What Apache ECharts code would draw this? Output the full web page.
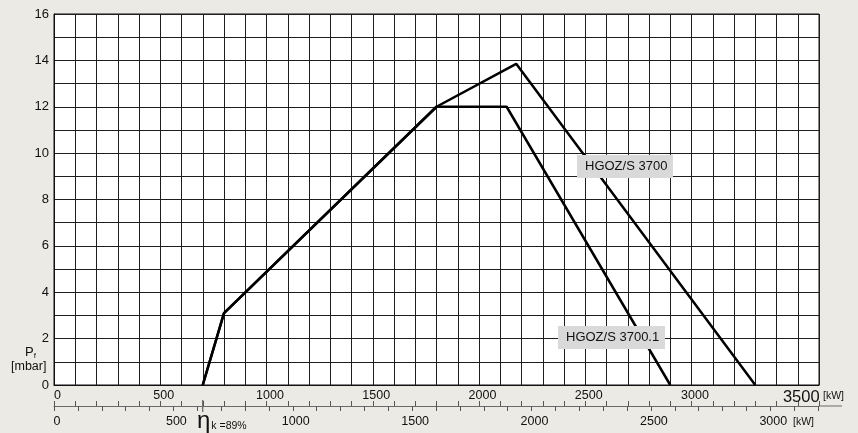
<!DOCTYPE html>
<html>
<head>
<meta charset="utf-8">
<script src="https://cdn.jsdelivr.net/npm/echarts@6/dist/echarts.min.js"></script>
<style>
html,body{margin:0;padding:0;background:#ebeae5;}
#chart{width:858px;height:433px;}
</style>
</head>
<body>
<div id="chart"></div>
<script>
// ---- data ----
const burnerPower3700 = [700, 800, 1800, 2175, 3300];      // kW
const pressure3700    = [0, 3.1, 12, 13.85, 0];            // mbar
const burnerPower37001 = [700, 800, 1800, 2130, 2900];     // kW
const pressure37001    = [0, 3.1, 12, 12, 0];              // mbar
const seriesNames = ['HGOZ/S 3700', 'HGOZ/S 3700.1'];
const efficiency = 0.89;                                   // ηk = 89 %
const xMax = 3600, yMax = 16;
const xLabelStep = 500, yLabelStep = 2;

const FONT = '"Liberation Sans", Arial, sans-serif';
const TXT = '#111';

function zip(xs, ys) { return xs.map((x, i) => [x, ys[i]]); }

const chart = echarts.init(document.getElementById('chart'), null, {renderer: 'canvas'});

const option = {
  backgroundColor: '#ebeae5',
  animation: false,
  grid: {left: 54, right: 39, top: 14, bottom: 48, show: true, backgroundColor: '#ffffff', borderColor: '#111', borderWidth: 1},
  xAxis: [
    {
      type: 'value', min: 0, max: xMax, interval: 100, position: 'bottom',
      axisLine: {show: true, lineStyle: {color: '#111', width: 1}},
      axisTick: {show: false},
      splitLine: {show: true, lineStyle: {color: '#1e1e1e', width: 1}},
      axisLabel: {
        margin: 4, color: TXT, fontSize: 12.5, fontFamily: FONT, padding: [0, 0, 0, 7],
        showMaxLabel: false,
        formatter: v => v % xLabelStep === 0 && v < xMax ? (v === 3500 ? '{big|3500}' : String(v)) : '',
        rich: {big: {fontSize: 16.5, fontFamily: FONT, color: TXT}}
      }
    },
    {
      type: 'value', min: 0, max: xMax, interval: 100, position: 'bottom', offset: 21,
      axisLine: {show: true, lineStyle: {color: '#6a6a6a', width: 1}},
      axisTick: {show: true, inside: true, length: 5, lineStyle: {color: '#555'}},
      splitLine: {show: false},
      axisLabel: {show: false}
    },
    {
      type: 'value', min: 0, max: xMax * efficiency, interval: 100, position: 'bottom', offset: 21,
      axisLine: {show: false},
      axisTick: {show: true, inside: false, length: 5, lineStyle: {color: '#555'}},
      splitLine: {show: false},
      axisLabel: {
        margin: 9, color: TXT, fontSize: 12.5, fontFamily: FONT, padding: [0, 0, 0, 6],
        showMaxLabel: false,
        formatter: v => v % xLabelStep === 0 ? String(v) : ''
      }
    }
  ],
  yAxis: {
    type: 'value', min: 0, max: yMax, interval: 1,
    axisLine: {show: true, lineStyle: {color: '#111'}},
    axisTick: {show: false},
    splitLine: {show: true, lineStyle: {color: '#1e1e1e', width: 1}},
    axisLabel: {
      margin: 5, color: TXT, fontSize: 13, fontFamily: FONT,
      formatter: v => v % yLabelStep === 0 ? String(v) : ''
    }
  },
  series: [
    {
      name: seriesNames[0], type: 'line', xAxisIndex: 0, symbol: 'none',
      data: zip(burnerPower3700, pressure3700),
      lineStyle: {color: '#000', width: 2.5}, z: 5
    },
    {
      name: seriesNames[1], type: 'line', xAxisIndex: 0, symbol: 'none',
      data: zip(burnerPower37001, pressure37001),
      lineStyle: {color: '#000', width: 2.5}, z: 5
    }
  ]
};
chart.setOption(option);

// ---- annotations ----
const px = v => chart.convertToPixel({xAxisIndex: 0}, v);
const gridRight = 858 - 39, axis2Y = 385 + 21;
const graphics = [
  {type: 'line', shape: {x1: gridRight, y1: axis2Y, x2: 842, y2: axis2Y}, style: {stroke: '#6a6a6a', lineWidth: 1}},
  {type: 'line', shape: {x1: px(burnerPower3700[0]), y1: axis2Y - 6, x2: px(burnerPower3700[0]), y2: axis2Y + 6}, style: {stroke: '#444', lineWidth: 1}},
  {type: 'text', x: 823, y: 396, style: {text: '[kW]', font: '10.5px ' + FONT, fill: TXT, verticalAlign: 'middle'}},
  {type: 'text', x: 793, y: 422, style: {text: '[kW]', font: '10.5px ' + FONT, fill: TXT, verticalAlign: 'middle'}},
  {type: 'text', x: 197, y: 421, style: {
    text: '{eta|η}{sub|k =89%}', verticalAlign: 'middle',
    rich: {eta: {font: '24px ' + FONT, fill: TXT, padding: [0, 1, 0, 0]}, sub: {font: '10.5px ' + FONT, fill: TXT, padding: [10, 0, 0, 0]}}
  }},
  {type: 'text', x: 25, y: 352, style: {
    text: '{p|P}{f|f}', verticalAlign: 'middle',
    rich: {p: {font: '13px ' + FONT, fill: TXT}, f: {font: '8px ' + FONT, fill: TXT, padding: [7, 0, 0, 0]}}
  }},
  {type: 'text', x: 11, y: 367, style: {text: '[mbar]', font: '12.5px ' + FONT, fill: TXT, verticalAlign: 'middle'}},
  {type: 'text', x: 577, y: 155, z: 10, style: {
    text: seriesNames[0], font: '13px ' + FONT, fill: TXT,
    backgroundColor: '#d9d9d9', padding: [5, 9, 4, 8], width: 79, height: 14, verticalAlign: 'top'
  }},
  {type: 'text', x: 558, y: 326, z: 10, style: {
    text: seriesNames[1], font: '13px ' + FONT, fill: TXT,
    backgroundColor: '#d9d9d9', padding: [5, 9, 4, 8], width: 90, height: 14, verticalAlign: 'top'
  }}
];
chart.setOption({graphic: graphics});
</script>
</body>
</html>
